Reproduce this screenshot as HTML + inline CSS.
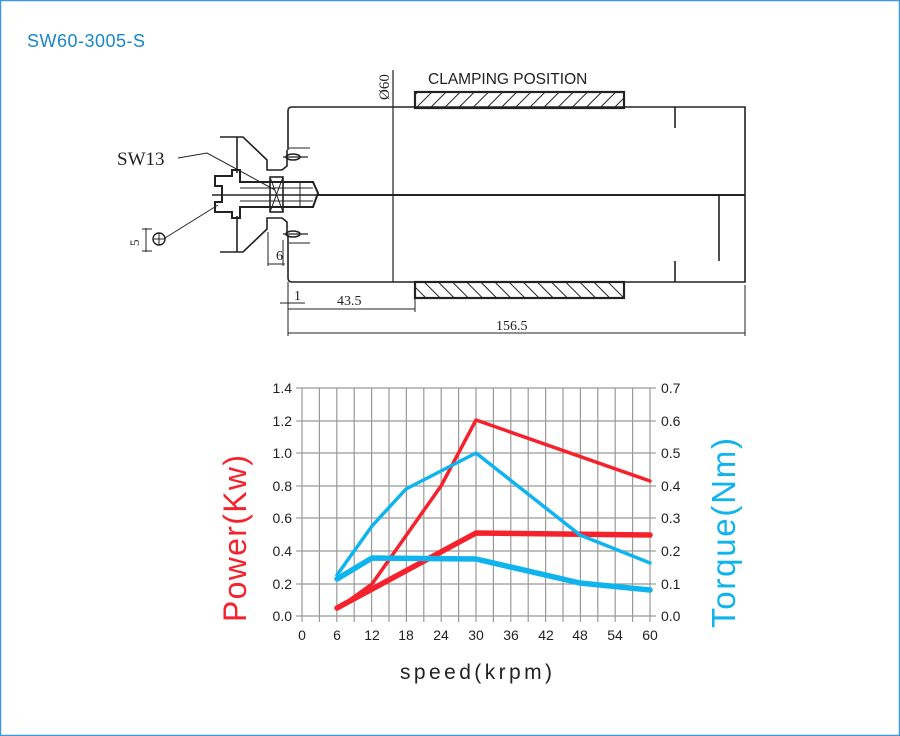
<!DOCTYPE html>
<html><head><meta charset="utf-8"><style>
html,body{margin:0;padding:0;background:#fff}
svg{display:block}
</style></head><body>
<svg width="900" height="736" viewBox="0 0 900 736" xmlns="http://www.w3.org/2000/svg" font-family="Liberation Sans, sans-serif">
<defs>
<pattern id="h1" width="10" height="10" patternUnits="userSpaceOnUse" patternTransform="rotate(45)"><line x1="0" y1="0" x2="0" y2="10" stroke="#222" stroke-width="2"/></pattern>
<pattern id="h2" width="10" height="10" patternUnits="userSpaceOnUse" patternTransform="rotate(-45)"><line x1="0" y1="0" x2="0" y2="10" stroke="#222" stroke-width="2"/></pattern>
</defs>
<rect x="0.5" y="0.5" width="899" height="735" fill="#fff" stroke="#3a9ad6" stroke-width="1.5"/>
<text x="27" y="47" font-size="18" fill="#1a86c8" textLength="118">SW60-3005-S</text>

<g stroke="#222" fill="none" stroke-width="1.6">
<path d="M288,150 L288,111 Q288,107 292,107 L745,107 L745,282 L292,282 Q288,282 288,278 L288,235"/>
<line x1="318" y1="195" x2="745" y2="195" stroke-width="2"/>
<line x1="393" y1="70" x2="393" y2="282" stroke-width="1.2"/>
<line x1="675" y1="107" x2="675" y2="128"/>
<line x1="675" y1="261" x2="675" y2="282"/>
<line x1="719" y1="195" x2="719" y2="261"/>
<rect x="415" y="92" width="209" height="16" fill="url(#h1)" stroke-width="2.2"/>
<rect x="415" y="282" width="209" height="16" fill="url(#h2)" stroke-width="2.2"/>
<g stroke-width="1">
<line x1="288" y1="282" x2="288" y2="336"/>
<line x1="415" y1="298" x2="415" y2="312"/>
<line x1="745" y1="285" x2="745" y2="336"/>
<line x1="288" y1="309" x2="415" y2="309"/>
<line x1="288" y1="333" x2="745" y2="333"/>
<line x1="280" y1="303" x2="305" y2="303"/>
<line x1="268" y1="232" x2="268" y2="266"/>
<line x1="268" y1="264" x2="285" y2="264"/>
<line x1="283" y1="240" x2="283" y2="266"/>
</g>
<path d="M220,137 L243,137 L267,160 L267,170 L282,170 L287,166 L287,150"/>
<path d="M237,137 L237,173"/>
<path d="M220,252 L243,252 L267,229 L267,218 L282,218 L287,222 L287,235"/>
<path d="M237,252 L237,216"/>
<path d="M215,176 L232,176 L232,170 L240,170 L240,182 L313,182 L318,193 L313,207 L240,207 L240,218 L232,218 L232,212 L215,212 L215,202 L222,202 L222,186 L215,186 Z" stroke-width="2"/>
<rect x="270" y="177" width="13" height="35"/>
<line x1="270" y1="177" x2="283" y2="212" stroke-width="1"/>
<line x1="283" y1="177" x2="270" y2="212" stroke-width="1"/>
<line x1="240" y1="188" x2="313" y2="188" stroke-width="1"/>
<line x1="240" y1="201" x2="313" y2="201" stroke-width="1"/>
<line x1="300" y1="182" x2="300" y2="207" stroke-width="1"/>
<line x1="212" y1="195" x2="320" y2="195" stroke-width="1.4"/>
<ellipse cx="293" cy="157" rx="7" ry="3" stroke-width="1.6"/>
<line x1="283" y1="157" x2="308" y2="157" stroke-width="1.2"/>
<line x1="289" y1="148" x2="310" y2="148" stroke-width="1"/>
<ellipse cx="293" cy="234" rx="7" ry="3" stroke-width="1.6"/>
<line x1="283" y1="234" x2="308" y2="234" stroke-width="1.2"/>
<line x1="289" y1="243" x2="310" y2="243" stroke-width="1"/>
<polyline points="178,158 207,153 275,190" stroke-width="1"/>
<line x1="165" y1="238" x2="218" y2="205" stroke-width="1"/>
<circle cx="159" cy="239" r="6" stroke-width="1.4"/>
<line x1="153" y1="239" x2="165" y2="239" stroke-width="1"/>
<line x1="159" y1="233" x2="159" y2="245" stroke-width="1"/>
<line x1="142" y1="229" x2="152" y2="229" stroke-width="1"/>
<line x1="142" y1="251" x2="152" y2="251" stroke-width="1"/>
<line x1="146" y1="228" x2="146" y2="252" stroke-width="1"/>
</g>
<g font-family="Liberation Serif, serif" fill="#222">
<text x="117" y="165" font-size="19">SW13</text>
<text x="276" y="260" font-size="14">6</text>
<text x="294" y="300" font-size="14">1</text>
<text x="337" y="305" font-size="14">43.5</text>
<text x="496" y="330" font-size="14">156.5</text>
<text transform="translate(139,246) rotate(-90)" font-size="13">5</text>
<text transform="translate(389,100) rotate(-90)" font-size="15">Ø60</text>
</g>
<text x="428" y="84" font-size="15.5" fill="#222">CLAMPING POSITION</text>

<g stroke="#999" stroke-width="1.2">
<line x1="302" y1="388" x2="650" y2="388"/><line x1="302" y1="421" x2="650" y2="421"/>
<line x1="302" y1="453" x2="650" y2="453"/><line x1="302" y1="486" x2="650" y2="486"/>
<line x1="302" y1="518" x2="650" y2="518"/><line x1="302" y1="551" x2="650" y2="551"/>
<line x1="302" y1="584" x2="650" y2="584"/><line x1="296" y1="616" x2="656" y2="616"/>
<line x1="302" y1="388" x2="302" y2="622"/><line x1="319.4" y1="388" x2="319.4" y2="622"/>
<line x1="336.8" y1="388" x2="336.8" y2="622"/><line x1="354.2" y1="388" x2="354.2" y2="622"/>
<line x1="371.6" y1="388" x2="371.6" y2="622"/><line x1="389" y1="388" x2="389" y2="622"/>
<line x1="406.4" y1="388" x2="406.4" y2="622"/><line x1="423.8" y1="388" x2="423.8" y2="622"/>
<line x1="441.2" y1="388" x2="441.2" y2="622"/><line x1="458.6" y1="388" x2="458.6" y2="622"/>
<line x1="476" y1="388" x2="476" y2="622"/><line x1="493.4" y1="388" x2="493.4" y2="622"/>
<line x1="510.8" y1="388" x2="510.8" y2="622"/><line x1="528.2" y1="388" x2="528.2" y2="622"/>
<line x1="545.6" y1="388" x2="545.6" y2="622"/><line x1="563" y1="388" x2="563" y2="622"/>
<line x1="580.4" y1="388" x2="580.4" y2="622"/><line x1="597.8" y1="388" x2="597.8" y2="622"/>
<line x1="615.2" y1="388" x2="615.2" y2="622"/><line x1="632.6" y1="388" x2="632.6" y2="622"/>
<line x1="650" y1="388" x2="650" y2="622"/>
<line x1="296" y1="388" x2="302" y2="388"/><line x1="296" y1="421" x2="302" y2="421"/><line x1="296" y1="453" x2="302" y2="453"/><line x1="296" y1="486" x2="302" y2="486"/><line x1="296" y1="518" x2="302" y2="518"/><line x1="296" y1="551" x2="302" y2="551"/><line x1="296" y1="584" x2="302" y2="584"/>
<line x1="650" y1="388" x2="656" y2="388"/><line x1="650" y1="421" x2="656" y2="421"/><line x1="650" y1="453" x2="656" y2="453"/><line x1="650" y1="486" x2="656" y2="486"/><line x1="650" y1="518" x2="656" y2="518"/><line x1="650" y1="551" x2="656" y2="551"/><line x1="650" y1="584" x2="656" y2="584"/>
</g>
<g font-size="14" fill="#222" text-anchor="end">
<text x="292" y="393">1.4</text><text x="292" y="426">1.2</text><text x="292" y="458">1.0</text><text x="292" y="491">0.8</text><text x="292" y="523">0.6</text><text x="292" y="556">0.4</text><text x="292" y="589">0.2</text><text x="292" y="621">0.0</text>
</g>
<g font-size="14" fill="#222">
<text x="661" y="393">0.7</text><text x="661" y="426">0.6</text><text x="661" y="458">0.5</text><text x="661" y="491">0.4</text><text x="661" y="523">0.3</text><text x="661" y="556">0.2</text><text x="661" y="589">0.1</text><text x="661" y="621">0.0</text>
</g>
<g font-size="14" fill="#222" text-anchor="middle">
<text x="302" y="640">0</text><text x="337" y="640">6</text><text x="372" y="640">12</text><text x="406" y="640">18</text><text x="441" y="640">24</text><text x="476" y="640">30</text><text x="511" y="640">36</text><text x="546" y="640">42</text><text x="580" y="640">48</text><text x="615" y="640">54</text><text x="650" y="640">60</text>
</g>
<g fill="none" stroke-linejoin="round" stroke-linecap="round">
<polyline points="337,609 372,584 441,486 476,420 650,481" stroke="#f5222d" stroke-width="3.5"/>
<polyline points="337,608 476,533 650,535" stroke="#f5222d" stroke-width="5.5"/>
<polyline points="337,575 372,526 406,489 476,453 580,535 650,563" stroke="#0fb4ee" stroke-width="3.5"/>
<polyline points="337,579 372,558 476,559 580,583 650,590" stroke="#0fb4ee" stroke-width="5.5"/>
</g>
<text x="400" y="679" font-size="21" fill="#222" textLength="152">speed(krpm)</text>
<text transform="translate(246,622) rotate(-90)" font-size="32" fill="#f5222d" textLength="167">Power(Kw)</text>
<text transform="translate(735,628) rotate(-90)" font-size="33" fill="#0fb4ee" textLength="190">Torque(Nm)</text>
</svg>
</body></html>
